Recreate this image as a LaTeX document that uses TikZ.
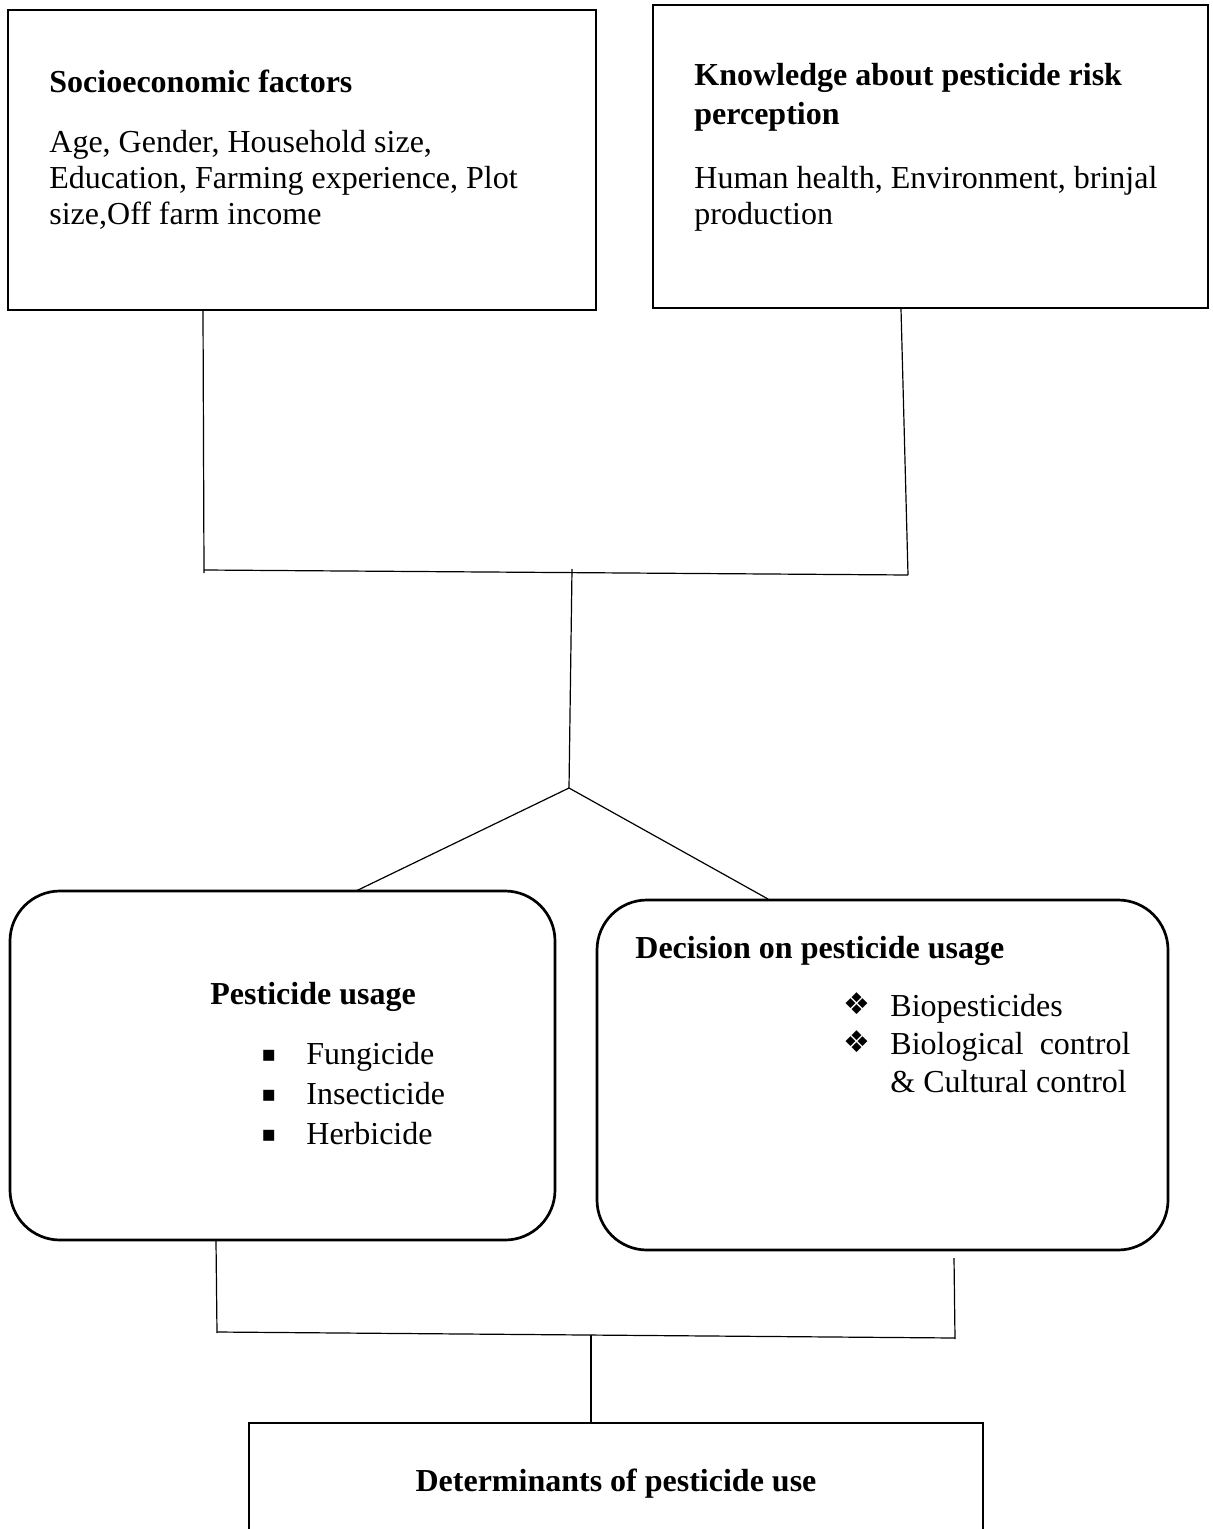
\documentclass[tikz,border=0pt]{standalone}
\usepackage{fontspec}
\setmainfont{Liberation Serif}
\newfontfamily\symfont{DejaVu Sans}
\begin{document}
\begin{tikzpicture}[x=0.5pt,y=-0.5pt,
  box/.style={draw,line width=1.35pt,inner sep=0pt},
  rbox/.style={draw,line width=1.35pt,inner sep=0pt,rounded corners=25pt},
  link/.style={draw,line width=0.6pt},
  txt/.style={inner sep=0pt,anchor=base west,font=\fontsize{16}{18}\selectfont},
  head/.style={txt,font=\fontsize{16}{20}\selectfont\bfseries},
  sq/.style={inner sep=0pt,anchor=base west,font=\symfont\fontsize{11}{13}\selectfont},
  dia/.style={inner sep=0pt,anchor=base west,font=\symfont\fontsize{15}{15}\selectfont}]
\useasboundingbox (0,0) rectangle (1212,1529);
\fill[white] (0,0) rectangle (1212,1529);

% top boxes
\node[box,minimum width=294pt,minimum height=150pt] (b1) at (302,160) {};
\node[box,minimum width=277.5pt,minimum height=151.5pt] (b2) at (930.5,156.5) {};
\node[head] (h1) at (49,93) {Socioeconomic factors};
\node[txt] (t1a) at (49,153) {Age, Gender, Household size,};
\node[txt] (t1b) at (49,189) {Education, Farming experience, Plot};
\node[txt] (t1c) at (49,225) {size,Off farm income};
\node[head] (h2) at (694,86) {Knowledge about pesticide risk};
\node[head] (h2b) at (694,125) {perception};
\node[txt] (t2a) at (694,189) {Human health, Environment, brinjal};
\node[txt] (t2b) at (694,225) {production};

% middle rounded boxes
\node[rbox,minimum width=272.5pt,minimum height=174.5pt] (b3) at (282.5,1065.5) {};
\node[rbox,minimum width=285.5pt,minimum height=175pt] (b4) at (882.5,1075) {};
\node[head] (h3) at (210,1004) {Pesticide usage};
\node[sq] (s1) at (261,1061) {▪};
\node[sq] (s2) at (261,1101) {▪};
\node[sq] (s3) at (261,1141) {▪};
\node[txt] (i1) at (306,1064) {Fungicide};
\node[txt] (i2) at (306,1104) {Insecticide};
\node[txt] (i3) at (306,1144) {Herbicide};
\node[head] (h4) at (635,958) {Decision on pesticide usage};
\node[dia] (d1) at (843,1014) {❖};
\node[dia] (d2) at (843,1052) {❖};
\node[txt] (j1) at (890,1016) {Biopesticides};
\node[txt] (j2) at (890,1054) {Biological\ \ control};
\node[txt] (j3) at (890,1092) {\& Cultural control};

% bottom box (open at the bottom)
\coordinate (b5bl) at (249,1529);
\coordinate (b5tl) at (249,1423);
\coordinate (b5tr) at (983,1423);
\coordinate (b5br) at (983,1529);
\draw[line width=1.35pt] (b5bl) -- (b5tl) -- (b5tr) -- (b5br);
\node[head,anchor=base] (h5) at (616,1491) {Determinants of pesticide use};

% connectors
\coordinate (c1) at (203,311);
\coordinate (c1e) at (204,573);
\coordinate (c2) at (901,309);
\coordinate (c2e) at (908,575);
\coordinate (m1) at (204,570);
\coordinate (m2) at (908,575);
\coordinate (m0) at (572,569);
\coordinate (apex) at (569,788);
\coordinate (e3) at (356,891);
\coordinate (e4) at (768,899);
\draw[link] (c1) -- (c1e);
\draw[link] (c2) -- (c2e);
\draw[link] (m1) -- (m2);
\draw[link] (m0) -- (apex);
\draw[link] (apex) -- (e3);
\draw[link] (apex) -- (e4);

\coordinate (l1) at (216,1241);
\coordinate (l1e) at (217,1333);
\coordinate (l2) at (954,1258);
\coordinate (l2e) at (955,1339);
\coordinate (n1) at (217,1332);
\coordinate (n2) at (955,1338);
\coordinate (n0) at (591,1335);
\draw[link] (l1) -- (l1e);
\draw[link] (l2) -- (l2e);
\draw[link] (n1) -- (n2);
\draw[link] (n0) -- (b5tl -| n0);
\end{tikzpicture}
\end{document}
